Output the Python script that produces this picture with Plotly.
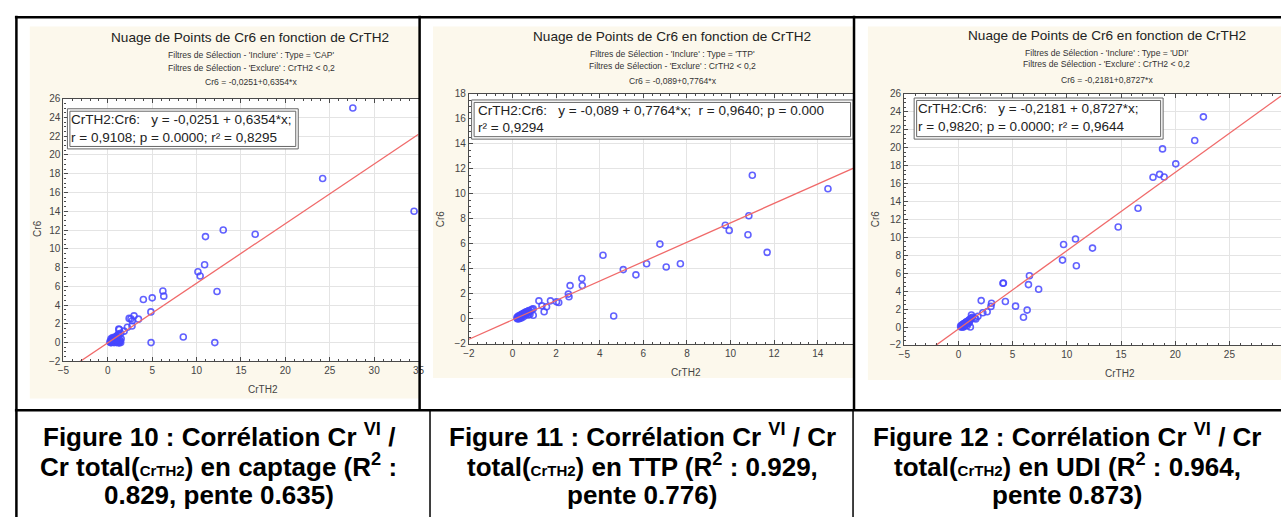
import plotly.graph_objects as go

W, H = 1287, 523

# ---------------- data ----------------
cap_x = [34.5, 27.6, 24.2, 11.0, 13.0, 16.6, 10.9, 10.15, 10.4, 12.3, 6.2, 6.3, 5.0, 4.0, 4.85,
         2.95, 2.4, 3.45, 2.75, 2.72, 2.2, 1.23, 1.83, 1.45, 4.87, 8.5, 12.05, 1.5, 1.3, 2.6, 1.3,
         0.25, 0.3, 0.35, 0.4, 0.45, 0.5, 0.55, 0.6, 0.65, 0.7, 0.75, 0.8, 0.85, 0.9, 0.95, 1.0,
         1.05, 1.1, 1.15, 1.2, 1.3, 1.4, 0.3, 0.4, 0.5, 0.6, 0.7, 0.8, 0.9, 1.0, 1.1, 1.2, 0.35,
         0.55, 0.75, 0.95, 1.25, 1.45]
cap_y = [14.0, 25.0, 17.5, 11.3, 12.0, 11.55, 8.3, 7.55, 7.1, 5.45, 5.5, 4.95, 4.77, 4.6, 3.27,
         2.85, 2.58, 2.5, 2.33, 1.77, 1.63, 1.43, 1.22, 1.0, 0.0, 0.6, 0.0, 0.4, 0.0, 2.54, 1.39,
         0.1, 0.05, 0.2, 0.15, 0.3, 0.25, 0.35, 0.4, 0.3, 0.45, 0.5, 0.55, 0.4, 0.6, 0.65, 0.7,
         0.5, 0.6, 0.8, 0.9, 0.3, 0.2, 0.0, 0.0, 0.1, 0.05, 0.0, 0.2, 0.1, 0.0, 0.05, 0.0, 0.4,
         0.55, 0.1, 0.3, 0.0, 0.0]

ttp_x = [11.0, 14.47, 9.76, 9.94, 10.84, 10.8, 11.68, 6.76, 4.15, 5.08, 5.66, 6.15, 7.05, 7.7,
         3.18, 3.2, 2.64, 2.56, 2.59, 4.64, 1.21, 1.74, 1.35, 1.56, 1.45, 2.02, 2.12, 0.95, 0.95,
         0.2, 0.22, 0.25, 0.28, 0.3, 0.32, 0.35, 0.38, 0.4, 0.42, 0.45, 0.48, 0.5, 0.52, 0.55,
         0.58, 0.6, 0.62, 0.65, 0.7, 0.72, 0.75, 0.8, 0.85, 0.9, 0.25, 0.3, 0.35, 0.4, 0.5, 0.6,
         0.7, 0.8]
ttp_y = [11.48, 10.4, 7.48, 7.07, 8.24, 6.72, 5.31, 5.97, 5.08, 3.93, 3.51, 4.4, 4.14, 4.4,
         3.22, 2.65, 2.65, 1.97, 1.76, 0.22, 1.43, 1.43, 1.03, 0.95, 0.56, 1.35, 1.3, 0.8, 0.28,
         0.1, 0.0, 0.2, 0.05, 0.15, 0.25, 0.2, 0.3, 0.25, 0.35, 0.3, 0.4, 0.35, 0.45, 0.4,
         0.5, 0.45, 0.55, 0.5, 0.6, 0.3, 0.65, 0.55, 0.7, 0.75, 0.0, 0.0, 0.1, 0.05, 0.15, 0.3,
         0.45, 0.35]

udi_x = [22.6, 21.8, 18.83, 20.05, 17.95, 18.56, 18.98, 16.57, 14.74, 12.37, 10.8, 9.7, 9.6,
         10.88, 6.55, 6.46, 7.4, 4.11, 4.15, 4.33, 5.27, 6.34, 6.0, 2.1, 3.05, 3.0, 2.65, 2.25,
         1.2, 1.8, 1.1, 1.5, 1.6, 0.2, 0.25, 0.3, 0.35, 0.4, 0.45, 0.5, 0.55, 0.6, 0.65, 0.7,
         0.75, 0.8, 0.85, 0.9, 0.95, 1.0, 1.05, 1.1, 1.2, 1.3, 0.3, 0.4, 0.5, 0.6, 0.7, 0.8, 0.9,
         1.0, 0.45, 0.65]
udi_y = [23.43, 20.8, 19.86, 18.19, 16.7, 17.02, 16.73, 13.24, 11.16, 8.8, 9.82, 9.2, 7.46,
         6.84, 5.71, 4.73, 4.22, 4.88, 4.9, 2.84, 2.33, 1.89, 1.09, 2.95, 2.65, 2.3, 1.71, 1.6,
         1.34, 1.2, 0.0, 1.0, 0.9, 0.1, 0.0, 0.2, 0.15, 0.3, 0.25, 0.35, 0.4, 0.45, 0.4, 0.55,
         0.5, 0.6, 0.55, 0.7, 0.65, 0.8, 0.7, 0.9, 1.0, 1.1, 0.0, 0.1, 0.05, 0.2, 0.3, 0.15, 0.4,
         0.5, 0.0, 0.35]

types = ["CAP", "TTP", "UDI"]
intercepts = [-0.0251, -0.089, -0.2181]
slopes = [0.6354, 0.7764, 0.8727]
r_vals = ["0,9108", "0,9640", "0,9820"]
r2_vals = ["0,8295", "0,9294", "0,9644"]
icpt_txt = ["-0,0251", "-0,089", "-0,2181"]
slope_txt = ["0,6354", "0,7764", "0,8727"]

x_ranges = [[-5, 35], [-2, 15.62], [-5, 29.76]]
y_ranges = [[-2, 26], [-2, 18], [-2, 26]]
x_dticks = [5, 2, 5]

captions = [
    ["Figure 10 : Corrélation Cr <sup>VI</sup> /",
     "Cr total(<span style='font-size:15px'>CrTH2</span>) en captage (R<sup>2</sup> :",
     "0.829, pente 0.635)"],
    ["Figure 11 : Corrélation Cr <sup>VI</sup> / Cr",
     "total(<span style='font-size:15px'>CrTH2</span>) en TTP (R<sup>2</sup> : 0.929,",
     "pente 0.776)"],
    ["Figure 12 : Corrélation Cr <sup>VI</sup> / Cr",
     "total(<span style='font-size:15px'>CrTH2</span>) en UDI (R<sup>2</sup> : 0.964,",
     "pente 0.873)"],
]

xs = [cap_x, ttp_x, udi_x]
ys = [cap_y, ttp_y, udi_y]

# ---------------- layout geometry (pixels) ----------------
def fx(px):
    return px / W

def fy(py):
    return 1 - py / H

plot_px = [  # left, right, top, bottom of plot areas
    (58, 416.4, 95.7, 364),
    (467.3, 855, 90.7, 346),
    (906.7, 1287, 90.7, 347.3),
]
panel_px = [(24, 417, 22, 402), (431, 856, 22, 381), (870, 1287, 22, 383)]
title_px = [(246.7, 33), (672.5, 32), (1111.3, 31)]
sub_px = [(247.5, [51.5, 64.5, 78.5]), (673, [50.5, 62.5, 77.5]), (1111, [49.5, 60.5, 76.5])]
xlab_px = [(259, 393), (686.7, 375), (1124, 376)]
ylab_px = [(31, 228), (438, 218), (878, 218)]
box_px = [(62, 295, 106, 147), (470, 855, 97, 137), (916.7, 1168, 95, 137)]
boxtxt_px = [(64, 117, 135), (474, 108, 125), (919, 106, 124)]
cap_cx = [215, 642, 1071]
cap_ly = [440, 470.5, 501]

FONT = "Arial, Liberation Sans, Helvetica, sans-serif"
fig = go.Figure()
shapes = []
annotations = []

for i in range(3):
    sfx = "" if i == 0 else str(i + 1)
    xa, ya = "x" + sfx, "y" + sfx
    # scatter
    fig.add_trace(go.Scatter(
        x=xs[i], y=ys[i], mode="markers", xaxis=xa, yaxis=ya, showlegend=False,
        marker=dict(symbol="circle-open", size=6, color="rgba(70,70,255,0.85)",
                    line=dict(width=1.6, color="rgba(70,70,255,0.85)")),
    ))
    # regression line
    lx = x_ranges[i]
    fig.add_trace(go.Scatter(
        x=lx, y=[intercepts[i] + slopes[i] * v for v in lx], mode="lines",
        xaxis=xa, yaxis=ya, showlegend=False,
        line=dict(color="#F06A6A", width=1.3),
    ))
    l, r, t, b = plot_px[i]
    axcommon = dict(showgrid=True, gridcolor="#E4E4E4", gridwidth=1, zeroline=False,
                    showline=True, linecolor="#4A4A4A", linewidth=1.3,
                    ticks="inside", ticklen=4, tickcolor="#4A4A4A",
                    tickfont=dict(family=FONT, size=10, color="#444"))
    fig.layout["xaxis" + sfx] = dict(
        domain=[fx(l), fx(r)], range=x_ranges[i], anchor=ya, dtick=x_dticks[i],
        mirror="allticks", minor=dict(ticks="inside", ticklen=2, dtick=x_dticks[i] / 5,
                                      tickcolor="#4A4A4A", showgrid=False),
        **axcommon)
    fig.layout["yaxis" + sfx] = dict(
        domain=[fy(b), fy(t)], range=y_ranges[i], anchor=xa, dtick=2,
        minor=dict(ticks="inside", ticklen=2, dtick=0.5, tickcolor="#4A4A4A", showgrid=False),
        **axcommon)

    # panel backgrounds
    pl, pr, pt, pb = panel_px[i]
    shapes.append(dict(type="rect", xref="paper", yref="paper", x0=fx(pl), x1=fx(pr),
                       y0=fy(pb), y1=fy(pt), fillcolor="#FCF8EC", line=dict(width=0),
                       layer="below"))
    shapes.append(dict(type="rect", xref="paper", yref="paper", x0=fx(l), x1=fx(r),
                       y0=fy(b), y1=fy(t), fillcolor="white", line=dict(width=0),
                       layer="below"))
    # regression info box (double border)
    bl, br, bt, bb = box_px[i]
    shapes.append(dict(type="rect", xref="paper", yref="paper", x0=fx(bl), x1=fx(br),
                       y0=fy(bb), y1=fy(bt), fillcolor="white",
                       line=dict(width=1, color="#666"), layer="above"))
    shapes.append(dict(type="rect", xref="paper", yref="paper", x0=fx(bl + 2.5),
                       x1=fx(br - 2.5), y0=fy(bb - 2.5), y1=fy(bt + 2.5),
                       fillcolor="rgba(0,0,0,0)", line=dict(width=1, color="#666"),
                       layer="above"))

    # titles
    tx, ty = title_px[i]
    annotations.append(dict(text="Nuage de Points de Cr6 en fonction de CrTH2", x=fx(tx),
                            y=fy(ty), xref="paper", yref="paper", showarrow=False,
                            xanchor="center", yanchor="middle",
                            font=dict(family=FONT, size=13.6, color="#222")))
    sx, sys_ = sub_px[i]
    subs = [f"Filtres de Sélection - 'Inclure' : Type = '{types[i]}'",
            "Filtres de Sélection - 'Exclure' : CrTH2 < 0,2",
            f"Cr6 = {icpt_txt[i]}+{slope_txt[i]}*x"]
    for s, sy in zip(subs, sys_):
        annotations.append(dict(text=s, x=fx(sx), y=fy(sy), xref="paper", yref="paper",
                                showarrow=False, xanchor="center", yanchor="middle",
                                font=dict(family=FONT, size=8.6, color="#333")))
    # axis titles
    annotations.append(dict(text="CrTH2", x=fx(xlab_px[i][0]), y=fy(xlab_px[i][1]),
                            xref="paper", yref="paper", showarrow=False,
                            xanchor="center", yanchor="middle",
                            font=dict(family=FONT, size=10, color="#444")))
    annotations.append(dict(text="Cr6", x=fx(ylab_px[i][0]), y=fy(ylab_px[i][1]),
                            xref="paper", yref="paper", showarrow=False, textangle=-90,
                            xanchor="center", yanchor="middle",
                            font=dict(family=FONT, size=10, color="#444")))
    # regression box text
    bx, by1, by2 = boxtxt_px[i]
    eq = f"CrTH2:Cr6:   y = {icpt_txt[i]} + {slope_txt[i]}*x;"
    stats = f"r = {r_vals[i]}; p = 0.0000; r² = {r2_vals[i]}"
    if i == 1:
        line1 = eq + f"  r = {r_vals[i]}; p = 0.000"
        line2 = f"r² = {r2_vals[i]}"
    else:
        line1, line2 = eq, stats
    for txt, yy in ((line1, by1), (line2, by2)):
        annotations.append(dict(text=txt, x=fx(bx), y=fy(yy), xref="paper", yref="paper",
                                showarrow=False, xanchor="left", yanchor="middle",
                                font=dict(family=FONT, size=13.5, color="#222")))
    # captions
    for txt, yy in zip(captions[i], cap_ly):
        annotations.append(dict(text=txt, x=fx(cap_cx[i]), y=fy(yy), xref="paper",
                                yref="paper", showarrow=False, xanchor="center",
                                yanchor="middle", borderpad=0,
                                font=dict(family=FONT, size=26, color="black",
                                          weight="bold")))

# table lines
def hline(y, x0, x1, w=2.5):
    return dict(type="line", xref="paper", yref="paper", x0=fx(x0), x1=fx(x1), y0=fy(y),
                y1=fy(y), line=dict(color="black", width=w), layer="above")

def vline(x, y0, y1, w=2.5):
    return dict(type="line", xref="paper", yref="paper", x0=fx(x), x1=fx(x), y0=fy(y0),
                y1=fy(y1), line=dict(color="black", width=w), layer="above")

shapes += [
    hline(12.5, 9, 1287),
    hline(414, 9, 1287),
    vline(10.5, 11, 523),
    vline(417.5, 11, 414),
    vline(856, 11, 414),
    vline(428, 414, 523, 1.5),
    vline(855, 414, 523, 1.5),
]

fig.update_layout(
    width=W, height=H, margin=dict(l=0, r=0, t=0, b=0),
    paper_bgcolor="white", plot_bgcolor="white",
    shapes=shapes, annotations=annotations, showlegend=False,
)

fig.write_html("out.html")
